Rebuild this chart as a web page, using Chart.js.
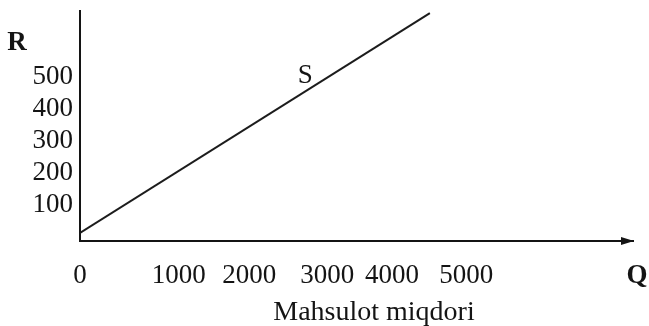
<!DOCTYPE html>
<html>
<head>
<meta charset="utf-8">
<script src="https://cdn.jsdelivr.net/npm/chart.js@4/dist/chart.umd.min.js"></script>
<style>
  html, body { margin: 0; padding: 0; background: #ffffff; }
  #wrap { width: 649px; height: 326px; }
</style>
</head>
<body>
<div id="wrap"><canvas id="c" width="649" height="326"></canvas></div>
<script>
// ---- data ----
const qValues = [0, 4530];          // Q (Mahsulot miqdori) at both ends of the S line
const rValues = [25, 712];          // R at both ends of the S line
const yTickValues = [100, 200, 300, 400, 500];
const xTickLabels = ['0', '1000', '2000', '3000', '4000', '5000'];
const xTickPositions = [0, 1280, 2190, 3200, 4040, 5000]; // where the printed labels sit on the axis
const seriesName = 'S';
const yAxisName = 'R';
const xAxisName = 'Q';
const xAxisTitle = 'Mahsulot miqdori';
const sLabelAt = { q: 2915, r: 494 };

const FONT = "'Liberation Serif', 'DejaVu Serif', serif";
const INK = '#141414';

const extraText = {
  id: 'extraText',
  afterDraw(chart) {
    const { ctx, chartArea, scales } = chart;
    const xs = scales.x, ys = scales.y;
    ctx.save();
    ctx.fillStyle = INK;
    // arrow at the end of the Q axis
    const ax = chartArea.right, ay = chartArea.bottom;
    ctx.beginPath();
    ctx.moveTo(ax + 1, ay);
    ctx.lineTo(ax - 12, ay - 4);
    ctx.lineTo(ax - 12, ay + 4);
    ctx.closePath();
    ctx.fill();
    // axis names
    ctx.textAlign = 'center';
    ctx.textBaseline = 'alphabetic';
    ctx.font = "bold 27px " + FONT;
    ctx.fillText(yAxisName, 17, 50);
    ctx.fillText(xAxisName, 637, 283);
    ctx.font = "28px " + FONT;
    ctx.fillText(xAxisTitle, 374, 320);
    // series label
    ctx.font = "27px " + FONT;
    ctx.fillText(seriesName, xs.getPixelForValue(sLabelAt.q), ys.getPixelForValue(sLabelAt.r));
    ctx.restore();
  }
};

new Chart(document.getElementById('c'), {
  type: 'line',
  data: {
    datasets: [{
      label: seriesName,
      data: qValues.map((q, i) => ({ x: q, y: rValues[i] })),
      borderColor: '#1c1c1c',
      borderWidth: 2,
      pointRadius: 0,
      fill: false,
      tension: 0
    }]
  },
  options: {
    responsive: false,
    animation: false,
    devicePixelRatio: 1,
    layout: { padding: { left: 0, right: 16, top: 10.6, bottom: 0 } },
    plugins: { legend: { display: false }, tooltip: { enabled: false }, title: { display: false } },
    scales: {
      x: {
        type: 'linear',
        min: 0,
        max: 7160,
        afterBuildTicks: (s) => { s.ticks = xTickPositions.map(v => ({ value: v })); },
        afterFit: (s) => { s.height = 85; s.paddingLeft = 0; s.paddingRight = 0; },
        grid: { display: true, drawOnChartArea: false, drawTicks: false },
        border: { display: true, color: INK, width: 2 },
        ticks: {
          autoSkip: false,
          maxRotation: 0,
          padding: 19,
          color: INK,
          font: { family: FONT, size: 27 },
          callback: (v, i) => xTickLabels[i]
        }
      },
      y: {
        type: 'linear',
        min: 0,
        max: 720,
        afterBuildTicks: (s) => { s.ticks = yTickValues.map(v => ({ value: v })); },
        afterFit: (s) => { s.width = 80; s.paddingTop = 0; s.paddingBottom = 0; },
        grid: { display: true, drawOnChartArea: false, drawTicks: false },
        border: { display: true, color: INK, width: 2 },
        ticks: {
          padding: 7,
          labelOffset: -4,
          color: INK,
          font: { family: FONT, size: 27 },
          callback: (v) => String(v)
        }
      }
    }
  },
  plugins: [extraText]
});
</script>
</body>
</html>
